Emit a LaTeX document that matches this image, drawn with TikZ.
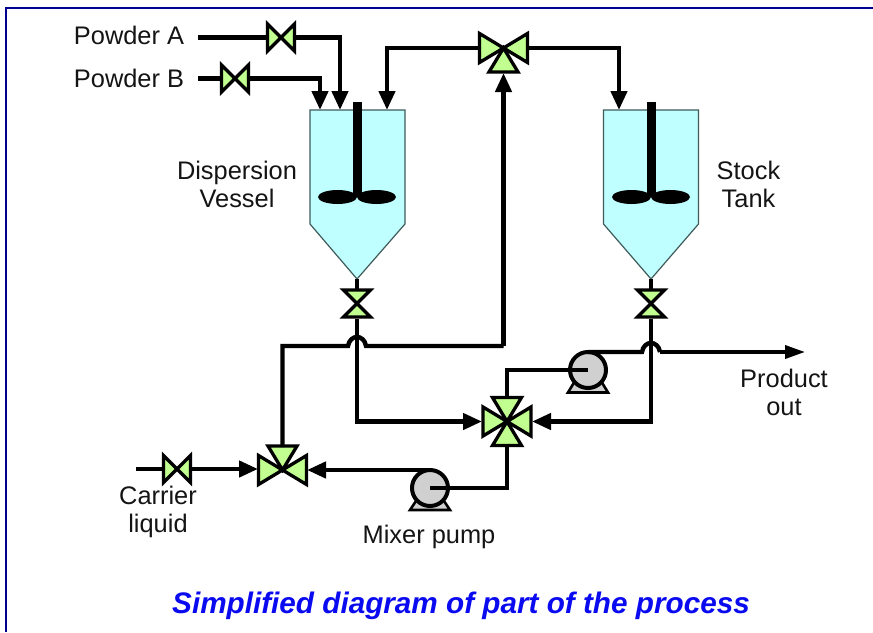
\documentclass[tikz,border=0pt]{standalone}
\usepackage{fontspec}
\setmainfont{Liberation Sans}
\usetikzlibrary{arrows.meta}
\definecolor{frameblue}{HTML}{000090}
\definecolor{vesselfill}{HTML}{BFFFFF}
\definecolor{vesselline}{HTML}{405A5A}
\definecolor{valvefill}{HTML}{C0FF90}
\definecolor{pumpfill}{HTML}{D0D0D0}
\definecolor{titleblue}{HTML}{0A0AF0}
\tikzset{
  pipe/.style={line width=4.4pt,black,line join=miter},
  flow/.style={pipe,-{Triangle[length=19pt,width=16pt]}},
  thinflow/.style={line width=3.6pt,black,-{Triangle[length=20pt,width=13pt]}},
  vbody/.style={draw=black,fill=valvefill,line width=3.3pt,line join=miter,miter limit=4},
  valvebox/.style={rectangle,inner sep=0pt,outer sep=0pt,minimum width=#1},
  vesselbody/.style={draw=vesselline,fill=vesselfill,line width=1.2pt},
  pumpbody/.style={circle,draw=black,fill=pumpfill,line width=4pt,minimum size=36pt,inner sep=0pt,outer sep=0pt},
  pumpbase/.style={draw=black,fill=pumpfill,line width=2.6pt,line join=miter},
  label/.style={align=center,inner sep=0pt,text=black!92,font=\fontsize{25.4}{28}\selectfont},
  titletext/.style={inner sep=0pt,text=titleblue,font=\fontsize{29.7}{32}\selectfont\bfseries\itshape},
  blade/.style={fill=black,draw=none}
}
\newcommand{\hvalve}[4]{% name, x, y, half-size: left-right gate valve
  \node[valvebox=30pt,minimum height=30pt] (#1) at (#2,#3) {};
  \draw[vbody] (#1.center) -- ++(-#4,-#4) -- ++(0,2*#4) -- cycle;
  \draw[vbody] (#1.center) -- ++(#4,-#4) -- ++(0,2*#4) -- cycle;}
\newcommand{\vvalve}[4]{% name, x, y, half-size: up-down gate valve
  \node[valvebox=30pt,minimum height=30pt] (#1) at (#2,#3) {};
  \draw[vbody] (#1.center) -- ++(-#4,-#4) -- ++(2*#4,0) -- cycle;
  \draw[vbody] (#1.center) -- ++(-#4,#4) -- ++(2*#4,0) -- cycle;}
\newcommand{\armL}[1]{\draw[vbody] (#1.center) -- ++(-24,-14.5) -- ++(0,29) -- cycle;}
\newcommand{\armR}[1]{\draw[vbody] (#1.center) -- ++(24,-14.5) -- ++(0,29) -- cycle;}
\newcommand{\armU}[1]{\draw[vbody] (#1.center) -- ++(-14.5,-24) -- ++(29,0) -- cycle;}
\newcommand{\armD}[1]{\draw[vbody] (#1.center) -- ++(-14.5,24) -- ++(29,0) -- cycle;}
\newcommand{\vesselshape}[3]{% prefix, left x, apex x
  \draw[vesselbody] (#2,110) -- ++(95,0) -- ++(0,114) -- (#3,279) -- (#2,224) -- cycle;
  \coordinate (#1apex) at (#3,279);
  \fill[black] (#3-4.5,102) rectangle (#3+4.5,197);
  \fill[blade] (#3-19.5,197) ellipse [x radius=19.5pt,y radius=7pt];
  \fill[blade] (#3+19.5,197) ellipse [x radius=19.5pt,y radius=7pt];}
\begin{document}
\begin{tikzpicture}[x=1pt,y=-1pt]
\useasboundingbox (0,0) rectangle (873,632);
% frame
\draw[frameblue,line width=2.6pt] (873,8) -- (5.8,8) -- (5.8,632);

% vessels
\vesselshape{dv}{310}{357}
\vesselshape{st}{603.5}{651}
\coordinate (dvinA) at (320,110);
\coordinate (dvinB) at (340,110);
\coordinate (dvinC) at (387,110);
\coordinate (stin) at (619,110);

% pumps
\draw[pumpbase] (568,392.5) -- (608,392.5) -- (598,376) -- (578,376) -- cycle;
\node[pumpbody] (pumpU) at (588,370) {};
\draw[pumpbase] (410,510) -- (450,510) -- (440,495) -- (420,495) -- cycle;
\node[pumpbody] (pumpL) at (430,488) {};

% gate valves
\hvalve{vA}{281}{37.5}{13.5}
\hvalve{vB}{235}{78.5}{13.5}
\hvalve{vC}{177}{469}{13.5}
\vvalve{vD}{357}{303.5}{13.5}
\vvalve{vS}{651}{303.5}{13.5}

% three-way valve, top
\node[rectangle,inner sep=0pt,outer sep=0pt,minimum width=49pt,minimum height=48pt] (top3) at (503.5,48) {};
\armL{top3}\armR{top3}
\armD{top3}
\coordinate (top3s) at (503.5,73);

% three-way valve, lower left
\node[rectangle,inner sep=0pt,outer sep=0pt,minimum width=49pt,minimum height=46pt] (low3) at (282.5,470) {};
\armL{low3}\armR{low3}
\armU{low3}
\coordinate (low3n) at (282.5,447);
\coordinate (low3w) at (258,469);

% four-way valve
\node[rectangle,inner sep=0pt,outer sep=0pt,minimum width=50pt,minimum height=48pt] (mix) at (507,421.5) {};
\coordinate (mixw) at (482,421.5);
\coordinate (mixe) at (532,421.5);
\armL{mix}\armR{mix}\armU{mix}\armD{mix}

% labels
\node[label] (lA) at (129,35) {Powder A};
\node[label] (lB) at (129,78.5) {Powder B};
\node[label] (lDV) at (237,184) {Dispersion\\Vessel};
\node[label] (lST) at (748.5,184) {Stock\\Tank};
\node[label] (lPO) at (784,392.5) {Product\\out};
\node[label] (lCL) at (158,511.5) {Carrier\\liquid};
\node[label] (lMP) at (429,536.5) {Mixer pump};
\node[titletext] (ttl) at (461,606) {Simplified diagram of part of the process};

% free ends of the pipes
\coordinate (srcA) at (198,37.5);
\coordinate (srcB) at (198,78.5);
\coordinate (srcC) at (136,469);
\coordinate (prod) at (805,352);

% feeds
\draw[pipe] (srcA) -- (vA.west);
\draw[flow] (vA.east) -| (dvinB);
\draw[pipe] (srcB) -- (vB.west);
\draw[flow] (vB.east) -| (dvinA);
\draw[pipe] (srcC) -- (vC.west);
\draw[flow] (vC.east) -- (low3w);

% top valve
\draw[flow] (top3.west) -| (dvinC);
\draw[flow] (top3.east) -| (stin);

% vessel outlets
\draw[pipe] (dvapex) -- (vD.north);
\draw[pipe] (stapex) -- (vS.north);

% recycle with hop over dispersion outlet
\coordinate (hop1a) at (348,346);
\coordinate (hop1b) at (366,346);
\coordinate (rise) at (503.5,346);
\draw[pipe] (low3n) |- (hop1a) .. controls +(2,-12) and +(-2,-12) .. (hop1b) -- (rise);
\draw[flow] (rise) -- (top3s);

% outlets to mix valve
\draw[flow] (vD.south) |- (mixw);
\draw[flow] (vS.south) |- (mixe);

% pumps
\draw[pipe] (mix.south) |- (pumpL.center);
\draw[flow] (pumpL.north) -- (low3.east);
\draw[pipe] (mix.north) |- (pumpU.center);

% product with hop
\coordinate (hop2a) at (642,352);
\coordinate (hop2b) at (660,352);
\draw[pipe] (pumpU.north) -- (hop2a) .. controls +(2,-12) and +(-2,-12) .. (hop2b);
\draw[thinflow] (hop2b) -- (prod);
\end{tikzpicture}
\end{document}
